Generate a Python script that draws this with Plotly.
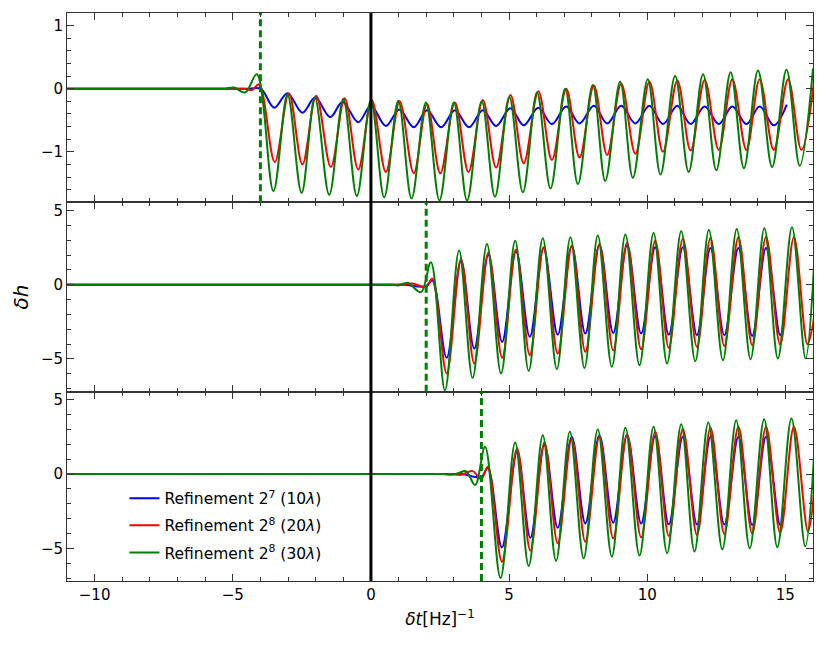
import plotly.graph_objects as go
from plotly.subplots import make_subplots

# waveform extrema (x in [Hz]^-1, y = delta h)
top_blue_x = [-11, -4.5, -3.99, -3.5, -3.02, -2.48, -2.02, -1.47, -1.03, -0.46, 0.0, 0.54, 1.03, 1.55,
              2.03, 2.54, 3.04, 3.55, 4.05, 4.53, 5.05, 5.53, 6.06, 6.55, 7.07, 7.55, 8.07, 8.55, 9.06,
              9.57, 10.08, 10.57, 11.09, 11.57, 12.08, 12.59, 13.08, 13.59, 14.07, 14.58, 15.05]
top_blue_y = [0, 0, 0, -0.30, -0.07, -0.38, -0.14, -0.45, -0.21, -0.53, -0.27, -0.59, -0.33, -0.61,
              -0.34, -0.61, -0.34, -0.61, -0.34, -0.59, -0.31, -0.58, -0.30, -0.56, -0.28, -0.55, -0.27,
              -0.55, -0.27, -0.55, -0.27, -0.56, -0.27, -0.56, -0.28, -0.56, -0.28, -0.56, -0.28, -0.58,
              -0.25]
top_red_x = [-11, -5.0, -4.6, -4.3, -4.05, -3.48, -2.97, -2.48, -1.98, -1.45, -0.95, -0.46, 0.03, 0.54,
             1.04, 1.55, 2.03, 2.51, 3.04, 3.53, 4.05, 4.53, 5.05, 5.53, 6.06, 6.55, 7.07, 7.55, 8.07,
             8.55, 9.06, 9.57, 10.08, 10.57, 11.09, 11.57, 12.08, 12.59, 13.08, 13.59, 14.07, 14.58,
             15.1, 15.58, 16.05]
top_red_y = [0, 0, 0, -0.02, 0.07, -1.16, -0.07, -1.20, -0.11, -1.24, -0.15, -1.28, -0.18, -1.32,
             -0.20, -1.34, -0.24, -1.34, -0.22, -1.32, -0.18, -1.25, -0.10, -1.18, -0.04, -1.13, 0.0,
             -1.09, 0.05, -1.05, 0.08, -1.03, 0.11, -1.0, 0.13, -0.98, 0.14, -0.97, 0.15, -0.97, 0.15,
             -0.97, 0.15, -0.97, 0.15]
top_green_x = [-11, -5.7, -5.3, -4.96, -4.55, -4.13, -3.53, -3.02, -2.51, -2.03, -1.51, -1.0, -0.51,
               0.0, 0.48, 0.99, 1.47, 1.99, 2.48, 3.0, 3.48, 4.01, 4.49, 5.01, 5.5, 6.01, 6.5, 7.03,
               7.49, 8.03, 8.48, 9.02, 9.48, 10.02, 10.48, 11.01, 11.5, 12.02, 12.5, 13.02, 13.5,
               14.01, 14.52, 15.04, 15.52, 16.0]
top_green_y = [0, 0, 0, 0.02, -0.06, 0.23, -1.62, -0.09, -1.65, -0.14, -1.68, -0.16, -1.70, -0.18,
               -1.72, -0.19, -1.74, -0.22, -1.77, -0.22, -1.77, -0.20, -1.71, -0.13, -1.64, -0.06,
               -1.58, 0.0, -1.51, 0.06, -1.46, 0.11, -1.41, 0.15, -1.36, 0.20, -1.32, 0.23, -1.29,
               0.26, -1.26, 0.29, -1.24, 0.30, -1.22, 0.32]

mid_blue_x = [-11, 0.8, 1.2, 1.99, 2.22, 2.74, 3.26, 3.74, 4.25, 4.75, 5.25, 5.75, 6.25, 6.76, 7.27,
              7.76, 8.27, 8.77, 9.27, 9.78, 10.29, 10.78, 11.29, 11.8, 12.29, 12.79, 13.3, 13.8, 14.3,
              14.81, 14.97]
mid_blue_y = [0, 0, 0, -0.1, 0.3, -4.92, 1.6, -4.3, 2.0, -3.85, 2.25, -3.51, 2.45, -3.36, 2.6, -3.29,
              2.68, -3.25, 2.64, -3.29, 2.52, -3.36, 2.52, -3.4, 2.48, -3.4, 2.48, -3.45, 2.48, -3.4,
              -2.2]
mid_red_x = [-11, 0.6, 1.0, 1.5, 1.99, 2.22, 2.74, 3.26, 3.74, 4.25, 4.75, 5.25, 5.75, 6.25, 6.76,
             7.27, 7.76, 8.27, 8.77, 9.27, 9.78, 10.29, 10.78, 11.29, 11.8, 12.29, 12.79, 13.3, 13.8,
             14.3, 14.81, 15.31, 15.8, 16.05]
mid_red_y = [0, 0, 0, 0.08, -0.16, 0.4, -5.97, 1.74, -5.3, 2.15, -4.92, 2.37, -4.74, 2.52, -4.63,
             2.64, -4.52, 2.75, -4.41, 2.82, -4.34, 2.97, -4.25, 3.09, -4.19, 3.15, -4.12, 3.2, -4.07,
             3.24, -4.03, 3.2, -4.0, -2.06]
mid_green_x = [-11, 0.4, 0.8, 0.97, 1.33, 1.81, 2.17, 2.68, 3.19, 3.68, 4.2, 4.71, 5.22, 5.71, 6.22,
               6.73, 7.22, 7.73, 8.21, 8.72, 9.21, 9.72, 10.23, 10.72, 11.23, 11.74, 12.23, 12.74,
               13.24, 13.74, 14.24, 14.73, 15.24, 15.73, 16.05]
mid_green_y = [0, 0, 0, -0.05, 0.13, -0.5, 1.52, -7.1, 2.3, -6.27, 2.75, -5.98, 2.97, -5.8, 3.13,
               -5.68, 3.2, -5.6, 3.31, -5.53, 3.38, -5.42, 3.49, -5.3, 3.6, -5.15, 3.69, -5.08, 3.76,
               -5.01, 3.8, -4.97, 3.87, -4.97, 1.74]

bot_blue_x = [-11, 2.9, 3.3, 3.99, 4.23, 4.74, 5.29, 5.77, 6.28, 6.76, 7.27, 7.76, 8.27, 8.77, 9.27,
              9.78, 10.29, 10.78, 11.29, 11.8, 12.29, 12.79, 13.3, 13.8, 14.3, 14.81, 14.97]
bot_blue_y = [0, 0, 0, -0.2, 0.4, -4.93, 1.5, -4.28, 2.0, -3.61, 2.51, -3.32, 2.62, -3.28, 2.62,
              -3.32, 2.58, -3.39, 2.51, -3.39, 2.51, -3.39, 2.51, -3.43, 2.51, -3.43, -2.2]
bot_red_x = [-11, 2.5, 2.9, 3.26, 3.68, 3.99, 4.23, 4.74, 5.29, 5.77, 6.28, 6.76, 7.27, 7.76, 8.27,
             8.77, 9.27, 9.78, 10.29, 10.78, 11.29, 11.8, 12.29, 12.79, 13.3, 13.8, 14.3, 14.81, 15.31,
             15.82, 16.06]
bot_red_y = [0, 0, 0, -0.05, 0.2, -0.34, 0.49, -5.9, 1.72, -5.15, 2.13, -4.66, 2.4, -4.55, 2.51,
             -4.33, 2.67, -4.26, 2.85, -4.17, 3.03, -4.1, 3.12, -4.03, 3.18, -3.99, 3.18, -3.94, 3.18,
             -3.88, -0.74]
bot_green_x = [-11, 2.2, 2.6, 2.9, 3.15, 3.44, 3.77, 4.13, 4.69, 5.22, 5.71, 6.22, 6.7, 7.2, 7.7,
               8.21, 8.72, 9.21, 9.72, 10.23, 10.72, 11.23, 11.71, 12.21, 12.72, 13.22, 13.71, 14.23,
               14.71, 15.22, 15.72, 16.06]
bot_green_y = [0, 0, 0, -0.05, 0.05, 0.2, -0.74, 1.84, -7.0, 2.13, -6.19, 2.62, -5.85, 2.85, -5.67,
               3.0, -5.56, 3.12, -5.49, 3.18, -5.33, 3.36, -5.22, 3.47, -5.07, 3.63, -5.0, 3.7, -4.93,
               3.74, -4.86, 1.95]

names = ["Refinement 2<sup>7</sup> (10<i>λ</i>)",
         "Refinement 2<sup>8</sup> (20<i>λ</i>)",
         "Refinement 2<sup>8</sup> (30<i>λ</i>)"]
colors = ["blue", "red", "green"]
dashed_t = [-4, 2, 4]   # green dashed marker per panel

panels = [
    [(top_blue_x, top_blue_y), (top_red_x, top_red_y), (top_green_x, top_green_y)],
    [(mid_blue_x, mid_blue_y), (mid_red_x, mid_red_y), (mid_green_x, mid_green_y)],
    [(bot_blue_x, bot_blue_y), (bot_red_x, bot_red_y), (bot_green_x, bot_green_y)],
]

fig = make_subplots(rows=3, cols=1, shared_xaxes=True, vertical_spacing=0)

for r, series in enumerate(panels, start=1):
    for k, (xs, ys) in enumerate(series):
        assert len(xs) == len(ys)
        fig.add_trace(go.Scatter(
            x=xs, y=ys, mode="lines", name=names[k],
            line=dict(color=colors[k], width=2, shape="spline", smoothing=1),
            legendgroup=names[k], showlegend=(r == 3),
        ), row=r, col=1)
    fig.add_vline(x=dashed_t[r - 1], row=r, col=1,
                  line=dict(color="green", width=3, dash="7px,4px"))

# t = 0 marker through all panels
fig.add_shape(type="line", xref="x", yref="paper", x0=0, x1=0, y0=0, y1=1,
              line=dict(color="black", width=3))

axis_style = dict(showline=True, linecolor="#333", linewidth=1, mirror="allticks",
                  ticks="inside", ticklen=7, tickcolor="#333", showgrid=False, zeroline=False,
                  automargin=False,
                  tickfont=dict(family="DejaVu Sans", size=15, color="black"))

fig.update_xaxes(range=[-11, 16], tickvals=[-10, -5, 0, 5, 10, 15],
                 minor=dict(dtick=1, ticks="inside", ticklen=4, tickcolor="#333"), **axis_style)
fig.update_xaxes(title=dict(text="<i>δt</i>[Hz]<sup>−1</sup>", font=dict(family="DejaVu Sans", size=17),
                            standoff=10), row=3, col=1)

fig.update_yaxes(range=[-1.8, 1.2], tickvals=[-1, 0, 1],
                 minor=dict(dtick=0.2, ticks="inside", ticklen=4, tickcolor="#333"),
                 row=1, col=1, **axis_style)
for r in (2, 3):
    fig.update_yaxes(range=[-7.2, 5.55], tickvals=[-5, 0, 5],
                     minor=dict(dtick=1, ticks="inside", ticklen=4, tickcolor="#333"),
                     row=r, col=1, **axis_style)
fig.update_yaxes(title=dict(text="<i>δh</i>", font=dict(family="DejaVu Sans", size=20), standoff=6),
                 row=2, col=1)

# page body adds an 8px offset, so the figure is sized and margined to compensate
fig.update_layout(
    width=822, height=645,
    margin=dict(l=59, r=17, t=5, b=72),
    plot_bgcolor="white", paper_bgcolor="white",
    font=dict(family="DejaVu Sans", size=15, color="black"),
    legend=dict(x=0.077, y=0.175, xanchor="left", yanchor="top", bgcolor="rgba(0,0,0,0)",
                tracegroupgap=4, font=dict(size=15.5)),
)

fig.write_html("out.html")
